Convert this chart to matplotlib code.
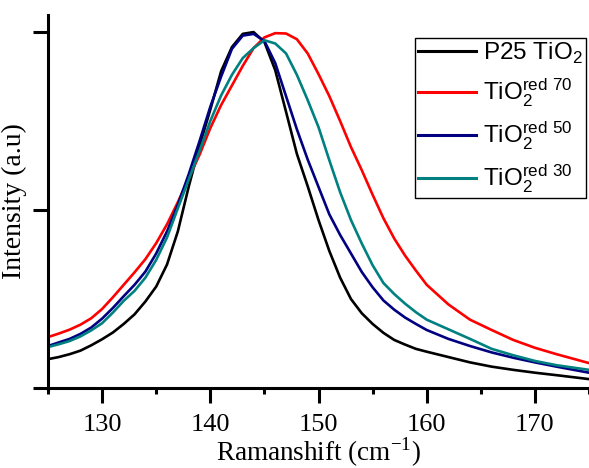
import numpy as np
import matplotlib
matplotlib.use("Agg")
import matplotlib.pyplot as plt
from matplotlib.ticker import MultipleLocator

# Raman shift grid (cm^-1)
shift = [125, 126, 127, 128, 129, 130, 131, 132, 133, 134, 135, 136, 137, 138,
         139, 140, 141, 142, 143, 144, 145, 146, 147, 148, 149, 150, 151, 152,
         153, 154, 155, 156, 157, 158, 159, 160, 162, 164, 166, 168, 170, 172, 175]

# normalised intensities
p25 = [0.081, 0.087, 0.095, 0.105, 0.12, 0.137, 0.156, 0.18, 0.207, 0.243, 0.285,
       0.347, 0.44, 0.565, 0.68, 0.782, 0.89, 0.958, 0.995, 1.0, 0.972, 0.893,
       0.776, 0.658, 0.567, 0.472, 0.385, 0.31, 0.25, 0.21, 0.18, 0.155, 0.135,
       0.122, 0.11, 0.102, 0.087, 0.072, 0.06, 0.051, 0.043, 0.036, 0.025]
red70 = [0.143, 0.153, 0.164, 0.178, 0.196, 0.222, 0.255, 0.29, 0.325, 0.362, 0.407,
         0.46, 0.522, 0.589, 0.655, 0.73, 0.795, 0.85, 0.905, 0.955, 0.985, 0.997,
         0.996, 0.98, 0.94, 0.882, 0.82, 0.75, 0.677, 0.612, 0.543, 0.477, 0.42,
         0.372, 0.33, 0.29, 0.235, 0.192, 0.163, 0.135, 0.113, 0.095, 0.07]
red50 = [0.118, 0.128, 0.138, 0.152, 0.17, 0.195, 0.225, 0.258, 0.29, 0.327, 0.378,
         0.44, 0.515, 0.6, 0.693, 0.79, 0.875, 0.953, 0.99, 0.995, 0.975, 0.913,
         0.82, 0.727, 0.642, 0.565, 0.488, 0.43, 0.378, 0.326, 0.283, 0.246, 0.22,
         0.198, 0.18, 0.163, 0.138, 0.118, 0.1, 0.085, 0.072, 0.06, 0.043]
red30 = [0.115, 0.123, 0.132, 0.145, 0.162, 0.182, 0.212, 0.245, 0.273, 0.31, 0.36,
         0.423, 0.505, 0.585, 0.666, 0.75, 0.822, 0.88, 0.927, 0.955, 0.977, 0.968,
         0.94, 0.88, 0.809, 0.733, 0.64, 0.55, 0.472, 0.406, 0.345, 0.295, 0.264,
         0.237, 0.213, 0.192, 0.165, 0.138, 0.11, 0.092, 0.076, 0.064, 0.051]

labels = [r'P25 TiO$_\mathregular{2}$',
          r'TiO$_\mathregular{2}^\mathregular{red\ 70}$',
          r'TiO$_\mathregular{2}^\mathregular{red\ 50}$',
          r'TiO$_\mathregular{2}^\mathregular{red\ 30}$']
colors = ['black', '#ff0000', '#000080', '#008080']

fig = plt.figure(figsize=(5.89, 4.68), dpi=100)
ax = fig.add_axes([48/589, 1-388/468, 1-48/589, (388-15)/468])

for y, c, lab in zip([p25, red70, red50, red30], colors, labels):
    ax.plot(shift, y, color=c, lw=1.9, label=lab)

ax.set_xlim(125, 175)
ax.set_ylim(0, 1.048)
ax.xaxis.set_major_locator(MultipleLocator(10))
ax.xaxis.set_minor_locator(MultipleLocator(5))
ax.set_yticks([0, 0.5, 1.0])
ax.set_yticklabels([])

for s in ['top', 'right']:
    ax.spines[s].set_visible(False)
for s in ['left', 'bottom']:
    ax.spines[s].set_linewidth(2.2)
ax.tick_params(which='major', direction='out', length=11, width=2.2, pad=8)
ax.tick_params(which='minor', direction='out', length=4.5, width=2.2)

serif = 'Liberation Serif'
for t in ax.get_xticklabels():
    t.set_fontfamily(serif)
    t.set_fontsize(19)
ax.set_xlabel(r'Ramanshift (cm$^{\mathregular{-1}}$)', family=serif, fontsize=19.5)
ax.xaxis.set_label_coords(0.5, -0.127)
ax.set_ylabel('Intensity (a.u)', family=serif, fontsize=20)
ax.yaxis.set_label_coords(-0.039, 0.5)

leg = ax.legend(loc='upper right', bbox_to_anchor=((586-48)/541, (388-38)/373),
                borderaxespad=0, prop={'family': 'Liberation Sans', 'size': 17.5},
                handlelength=2.4, handletextpad=0.3, labelspacing=0.42,
                borderpad=0.12, fancybox=False, framealpha=1, edgecolor='black')
leg.get_frame().set_linewidth(1.0)
for l in leg.get_lines():
    l.set_linewidth(2.2)

fig.savefig('out.png', dpi=100)
